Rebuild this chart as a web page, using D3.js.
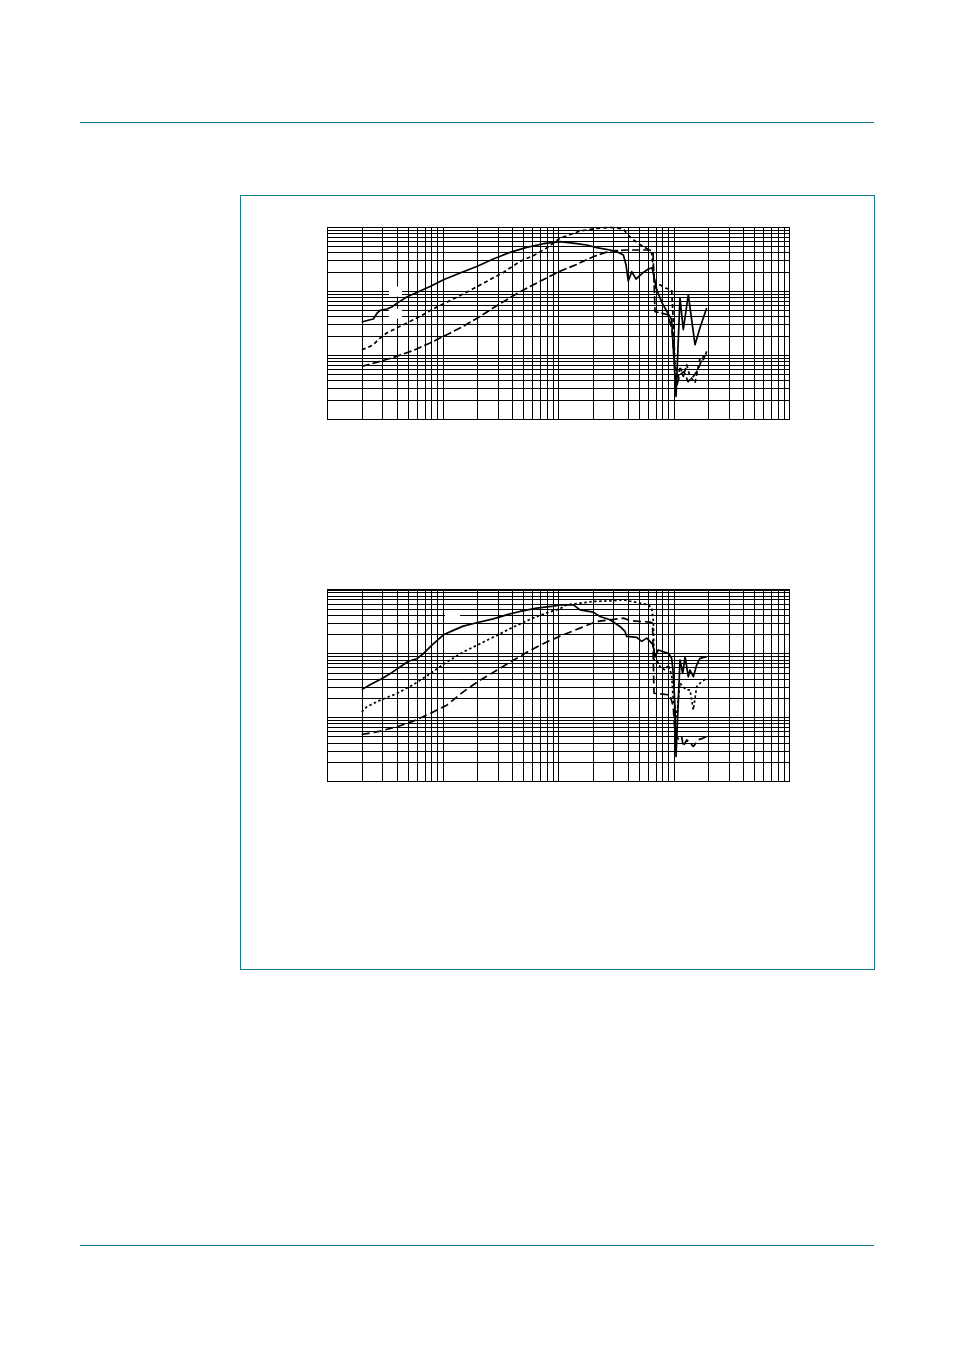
<!DOCTYPE html>
<html><head><meta charset="utf-8">
<script src="https://cdn.jsdelivr.net/npm/d3@7/dist/d3.min.js"></script>
<style>body{margin:0;background:#fff}svg{display:block}</style>
</head><body>
<svg id="page" width="954" height="1351"></svg>
<script>
// ---------- data ----------
const xDomain = [1, 10000];
const yDomain = [1, 1000];

// upper chart
const topSolid = [[2.0,32.8],[2.36,35.6],[2.52,36.5],[2.69,44.2],[2.88,49.8],[3.29,52.3],[3.63,56.2],[4.14,66.4],[4.90,80.5],[5.98,95],[7.80,118],[10.2,150],[14.2,191],[19.8,242],[27.5,316],[38.4,401],[53.6,480],[74.6,548],[104,589],[140,554],[177,523],[216,475],[282,437],[333,401],[368,365],[388,258],[406,143],[435,200],[474,154],[548,195],[606,221],[652,231],[716,105],[794,65.7],[964,35.6],[1010,8.45],[1052,2.25],[1138,77.8],[1216,24.9],[1343,87.5],[1535,14.5],[1696,26.7],[1938,54.2]];
const topDashed = [[2.0,12.1],[2.21,12.9],[2.52,14.5],[2.88,18.4],[3.29,22.1],[4.01,26.4],[5.23,33.5],[6.39,40.1],[8.91,56.2],[12.4,75],[17.3,102],[24.1,141],[33.6,195],[46.9,290],[61.1,356],[79.8,470],[104,668],[155,866],[216,951],[282,986],[368,930],[393,794],[435,663],[495,554],[586,463],[648,387],[678,180],[692,111],[764,125],[844,111],[964,105],[995,35.6],[1030,7.05],[1093,4.11],[1138,6.64],[1216,4.63],[1300,7.05],[1390,4.63],[1535,3.65],[1696,8.98],[1811,8.45],[1938,11.4]];
const topLongDash = [[2.0,6.64],[2.88,7.94],[4.01,9.51],[5.59,11.8],[7.80,15.4],[10.9,20.8],[15.1,28],[21.1,40.1],[29.5,58.9],[41.0,84.5],[57.2,118],[79.8,160],[104,204],[145,260],[202,344],[282,422],[393,437],[626,437],[665,411],[678,150],[692,47.5],[896,42.6],[970,24.9],[1030,5.89],[1072,3.44],[1138,4.92],[1233,5.48],[1337,3.83],[1477,4.58],[1631,5.89],[1800,9.4],[1945,10.1]];

// lower chart
const botSolid = [[2.0,27],[2.36,32.3],[2.97,40.1],[3.63,49.8],[4.29,61.1],[5.06,75],[5.98,82.4],[6.82,98.6],[8.32,141],[10.2,195],[12.4,229],[15.1,267],[19.8,301],[27.5,347],[35.9,401],[46.9,453],[65.4,510],[91,548],[104,575],[136,575],[155,480],[202,442],[231,378],[282,335],[344,264],[380,221],[393,184],[480,178],[531,154],[586,173],[626,154],[665,135],[692,87.5],[738,113],[817,106],[902,100],[964,83.6],[995,48.7],[1030,14.6],[1052,2.42],[1138,78.6],[1202,48.7],[1259,88.5],[1343,43.1],[1390,54.8],[1484,43.1],[1588,65.7],[1696,83.6],[1938,88.5]];
const botDotted = [[2.0,12.1],[2.21,14.5],[2.88,18.4],[4.01,23.4],[5.59,32.3],[7.80,48],[10.9,73.1],[15.1,105],[21.1,141],[29.5,191],[41.0,258],[57.2,340],[79.8,431],[104,498],[119,575],[155,611],[202,649],[282,663],[368,688],[513,611],[606,575],[648,510],[670,316],[678,78.6],[716,78.6],[764,61.8],[844,54.8],[902,65.7],[964,45.8],[995,18.6],[1066,10.2],[1138,34],[1216,29.7],[1300,26.7],[1390,26.7],[1484,13],[1588,30.1],[1754,36],[1938,40.7]];
const botLongDash = [[2.0,5.35],[2.88,6.04],[4.01,7.05],[5.59,8.66],[7.80,11.4],[10.9,15.4],[15.1,24.9],[21.1,37.9],[29.5,54.2],[41.0,77.8],[57.2,111],[79.8,150],[104,186],[155,248],[216,316],[282,335],[368,356],[420,325],[626,308],[658,297],[678,23.7],[933,22.3],[995,14.6],[1030,5.62],[1066,4.98],[1117,4.42],[1178,4.92],[1216,3.47],[1300,4.42],[1390,3.92],[1484,3.47],[1641,4.42],[1811,4.7],[1938,4.98]];

// erased label areas (data coords: x0,x1,y0,y1)
const topMasks = [[3.44,4.46,81.5,117],[3.44,4.46,36.9,52.8]];
const botMasks = [[10.5,14.2,344,442],[10.5,14.2,29.7,38.3]];

// ---------- drawing ----------
const svg = d3.select('#page');
const teal = '#17798d';

svg.append('line').attr('x1',80).attr('x2',874).attr('y1',122.5).attr('y2',122.5).attr('stroke',teal).attr('stroke-width',1);
svg.append('line').attr('x1',80).attr('x2',874).attr('y1',1245.5).attr('y2',1245.5).attr('stroke',teal).attr('stroke-width',1);
svg.append('rect').attr('x',240.5).attr('y',195.5).attr('width',634).attr('height',774).attr('fill','none').attr('stroke',teal).attr('stroke-width',1);

function panel(top, bottom, series, masks) {
  const x = d3.scaleLog().domain(xDomain).range([327, 789]);
  const y = d3.scaleLog().domain(yDomain).range([bottom, top]);
  const g = svg.append('g');
  const gx = g.append('g').attr('transform', `translate(0,${bottom})`)
    .call(d3.axisBottom(x).tickValues(x.ticks()).tickSize(-(bottom - top)).tickFormat(''));
  const gy = g.append('g').attr('transform', 'translate(327,0)')
    .call(d3.axisLeft(y).tickValues(y.ticks()).tickSize(-(789 - 327)).tickFormat(''));
  [gx, gy].forEach(a => {
    a.select('.domain').remove();
    a.selectAll('line').attr('stroke', '#000').attr('stroke-width', 1).attr('shape-rendering', 'crispEdges');
  });
  g.append('rect').attr('x', 327).attr('y', top).attr('width', 462).attr('height', bottom - top)
    .attr('fill', 'none').attr('stroke', '#000').attr('stroke-width', 1).attr('shape-rendering', 'crispEdges');
  g.selectAll('rect.mask').data(masks).enter().append('rect').attr('class','mask')
    .attr('x', d => x(d[0])).attr('width', d => x(d[1]) - x(d[0]))
    .attr('y', d => y(d[3])).attr('height', d => y(d[2]) - y(d[3]))
    .attr('fill', '#fff');
  const line = d3.line().x(d => x(d[0])).y(d => y(d[1]));
  series.forEach(s => {
    g.append('path').datum(s.data).attr('d', line).attr('fill', 'none')
      .attr('stroke', '#000').attr('stroke-width', 1.7)
      .attr('stroke-dasharray', s.dash).attr('stroke-linejoin', 'round');
  });
}

panel(227, 419, [
  {data: topLongDash, dash: '8,3'},
  {data: topDashed, dash: '4,3'},
  {data: topSolid, dash: null}
], topMasks);

panel(589.5, 781, [
  {data: botLongDash, dash: '8,4'},
  {data: botDotted, dash: '2.5,2.5'},
  {data: botSolid, dash: null}
], botMasks);
</script>
</body></html>
